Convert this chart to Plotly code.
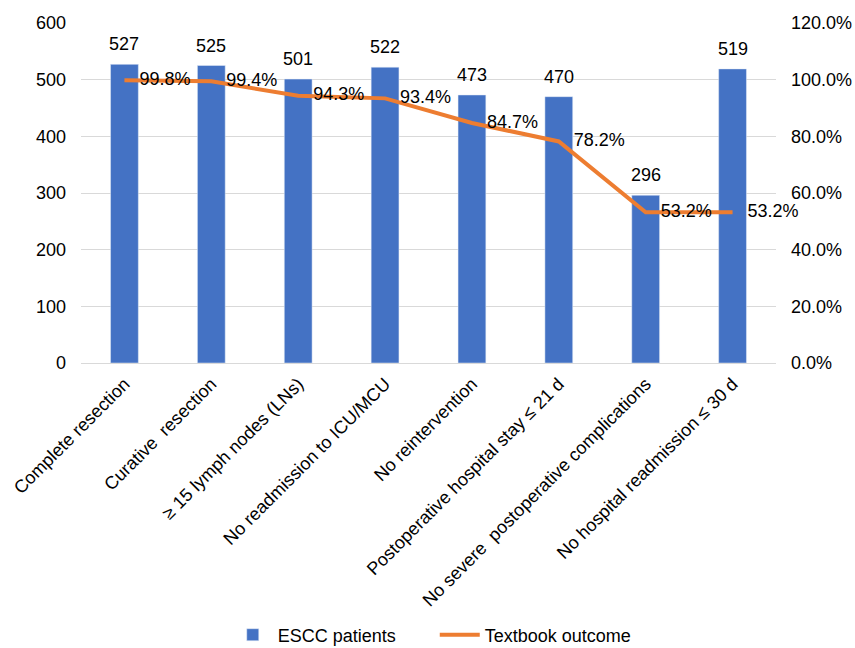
import plotly.graph_objects as go

categories = [
    "Complete resection",
    "Curative  resection",
    "≥ 15 lymph nodes (LNs)",
    "No readmission to ICU/MCU",
    "No reintervention",
    "Postoperative hospital stay ≤ 21 d",
    "No severe  postoperative complications",
    "No hospital readmission ≤ 30 d",
]
patients = [527, 525, 501, 522, 473, 470, 296, 519]
textbook_outcome = [0.998, 0.994, 0.943, 0.934, 0.847, 0.782, 0.532, 0.532]

FONT = "Liberation Sans, Arial, sans-serif"
BLUE = "#4472C4"
ORANGE = "#ED7D31"
GRID = "#D9D9D9"
FS = 18

fig = go.Figure()

fig.add_trace(go.Bar(
    x=categories,
    y=patients,
    name="ESCC patients",
    marker=dict(color=BLUE),
    width=0.32,
))

fig.add_trace(go.Scatter(
    x=categories,
    y=textbook_outcome,
    name="Textbook outcome",
    yaxis="y2",
    mode="lines+text",
    line=dict(color=ORANGE, width=4),
    text=["   " + f"{v * 100:.1f}%" for v in textbook_outcome],
    textposition="middle right",
    textfont=dict(family=FONT, size=FS, color="#000000"),
    cliponaxis=False,
))

# value labels above the bars
for cat, val in zip(categories, patients):
    fig.add_annotation(
        x=cat, y=val, xref="x", yref="y",
        text=str(val), showarrow=False,
        yanchor="bottom", yshift=8,
        font=dict(family=FONT, size=FS, color="#000000"),
    )

fig.update_layout(
    width=855,
    height=648,
    margin=dict(l=81, r=79, t=23, b=285, autoexpand=False),
    paper_bgcolor="white",
    plot_bgcolor="white",
    font=dict(family=FONT, size=FS, color="#000000"),
    bargap=0.68,
    showlegend=True,
    legend=dict(
        orientation="h",
        x=0.509,
        xanchor="center",
        y=-0.80,
        yanchor="middle",
        font=dict(family=FONT, size=FS, color="#000000"),
        itemwidth=40,
        entrywidth=152,
        entrywidthmode="pixels",
    ),
    xaxis=dict(
        type="category",
        tickangle=-45,
        tickfont=dict(family=FONT, size=FS, color="#000000"),
        showgrid=False,
        showline=False,
        ticks="",
        automargin=False,
        ticklabelstandoff=6,
    ),
    yaxis=dict(
        range=[0, 600],
        dtick=100,
        showgrid=True,
        gridcolor=GRID,
        gridwidth=1,
        zeroline=True,
        zerolinecolor=GRID,
        zerolinewidth=1,
        showline=False,
        tickfont=dict(family=FONT, size=FS, color="#000000"),
        ticks="",
        ticklabelstandoff=14,
        automargin=False,
    ),
    yaxis2=dict(
        range=[0, 1.2],
        dtick=0.2,
        tickformat=".1%",
        overlaying="y",
        side="right",
        showgrid=False,
        zeroline=False,
        showline=False,
        tickfont=dict(family=FONT, size=FS, color="#000000"),
        ticks="",
        ticklabelstandoff=14,
        automargin=False,
    ),
)

fig.write_html("out.html")
